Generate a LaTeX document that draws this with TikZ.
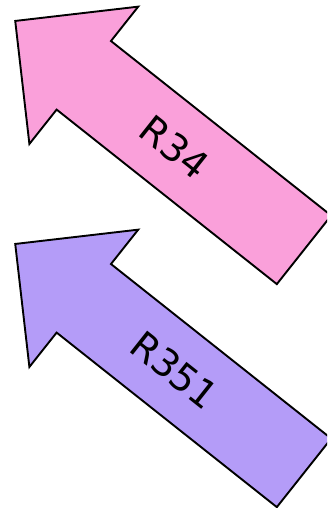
\documentclass[tikz,border=0pt]{standalone}
\usepackage{fontspec}
\setmainfont{DejaVu Sans}
\definecolor{arrowpink}{RGB}{250,160,218}
\definecolor{arrowviolet}{RGB}{180,156,248}
\tikzset{
  blockarrow/.style={draw=black, line width=1.9pt, line join=miter},
  arrowlabel/.style={font=\fontsize{38}{38}\selectfont, text=black, inner sep=0pt, rotate=-38.4},
}
% fat arrow along local u axis, tip pointing back towards negative u
\newcommand{\fatarrow}[1]{%
  \fill[#1] (-87.5,0) -- (0,-87.6) -- (0,-43.75) -- (281,-43.75)
    -- (281,43.75) -- (0,43.75) -- (0,87.6) -- cycle;
  \draw[blockarrow] (-87.5,0) -- (0,-87.6) -- (0,-43.75) -- (281,-43.75)
    -- (281,43.75) -- (0,43.75) -- (0,87.6) -- cycle;
}
\begin{document}
\begin{tikzpicture}[x=1pt, y=-1pt]
  \useasboundingbox (0,0) rectangle (327,508);
  \clip (0,0) rectangle (327,508);
  \begin{scope}[shift={(83.8,75.3)}, rotate=-38.4]
    \fatarrow{arrowpink}
    \node[arrowlabel] (r34) at (116,0) {R34};
  \end{scope}
  \begin{scope}[shift={(83.8,298.3)}, rotate=-38.4]
    \fatarrow{arrowviolet}
    \node[arrowlabel] (r351) at (116,0) {R351};
  \end{scope}
\end{tikzpicture}
\end{document}
